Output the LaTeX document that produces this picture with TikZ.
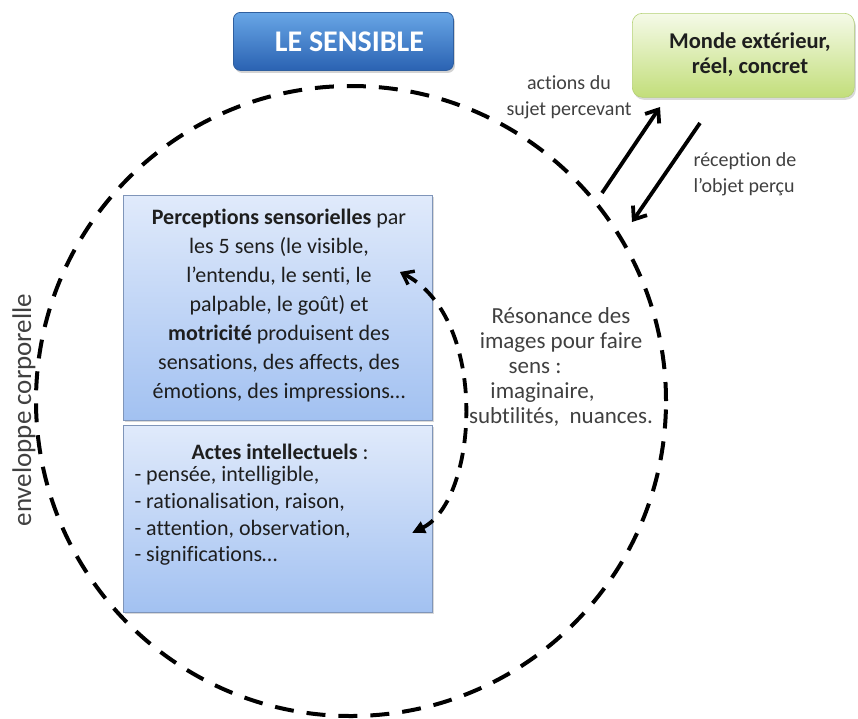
\documentclass[tikz,border=0pt]{standalone}
\usepackage{fontspec}
\setmainfont{Carlito}[RawFeature={-liga}]
\usetikzlibrary{arrows.meta,shadows}
\definecolor{titletop}{HTML}{68A6E6}
\definecolor{titlebot}{HTML}{2A62B2}
\definecolor{titledraw}{HTML}{2F5F9F}
\definecolor{greentop}{HTML}{F5FAE8}
\definecolor{greenbot}{HTML}{C2DE7A}
\definecolor{greendraw}{HTML}{B4D174}
\definecolor{bluetop}{HTML}{E0EAFB}
\definecolor{bluebot}{HTML}{A2C1F1}
\definecolor{bluedraw}{HTML}{7F95B9}
\definecolor{txt}{HTML}{1E1E1E}
\definecolor{lbl}{HTML}{404040}
\tikzset{
  titlebox/.style={rectangle, rounded corners=7pt, top color=titletop, bottom color=titlebot, draw=titledraw, line width=0.8pt,
    drop shadow={opacity=0.35, shadow xshift=1.5pt, shadow yshift=-2.5pt}},
  greenbox/.style={rectangle, rounded corners=10pt, top color=greentop, bottom color=greenbot, draw=greendraw, line width=0.6pt,
    drop shadow={opacity=0.3, shadow xshift=1.5pt, shadow yshift=-2.5pt}},
  bluebox/.style={rectangle, top color=bluetop, bottom color=bluebot, draw=bluedraw, line width=0.8pt,
    drop shadow={opacity=0.3, shadow xshift=2pt, shadow yshift=-2pt}},
  envline/.style={draw, line width=4pt, dash pattern=on 19pt off 13pt},
  bigarrow/.style={line width=3.8pt, -{Straight Barb[length=11pt,width=17pt,line width=3.8pt]}},
  lbltext/.style={text=lbl, font=\fontsize{20}{26}\selectfont},
  boxtext/.style={text=txt, font=\fontsize{22}{29}\selectfont},
}
\begin{document}
\begin{tikzpicture}[x=1pt,y=-1pt]
\useasboundingbox (0,0) rectangle (858,718);

% envelope circle
\node[circle, envline, minimum size=630pt, inner sep=0pt] (env) at (351,401) {};

% boxes
\node[bluebox, minimum width=309pt, minimum height=225pt, anchor=north west, inner sep=0pt] (perc) at (123,195) {};
\node[bluebox, minimum width=309pt, minimum height=187pt, anchor=north west, inner sep=0pt] (actes) at (123,425) {};

\node[titlebox, minimum width=220pt, minimum height=58pt, anchor=north west, inner sep=0pt] (titre) at (233,12) {};
\node[text=white, font=\fontsize{30}{32}\selectfont\bfseries] (titretxt) at ([xshift=6pt]titre.center) {LE SENSIBLE};

\node[greenbox, minimum width=222pt, minimum height=84pt, anchor=north west, inner sep=0pt] (monde) at (632,13) {};
\node[text=txt, align=center, font=\fontsize{22.5}{25}\selectfont\bfseries] (mondetxt) at (750,55) {Monde extérieur,\\réel, concret};

% box texts
\node[boxtext, align=center] (perctxt) at (279,306) {\textbf{Perceptions sensorielles} par\\les 5 sens (le visible,\\l’entendu, le senti, le\\palpable, le goût) et\\\textbf{motricité} produisent des\\sensations, des affects, des\\émotions, des impressions…};
\node[boxtext] (actestitre) at (280,452) {\textbf{Actes intellectuels} :};
\node[boxtext, align=left, anchor=north west, font=\fontsize{22}{26.7}\selectfont] (acteslist) at (131,463) {- pensée, intelligible,\\- rationalisation, raison,\\- attention, observation,\\- significations…};

% resonance
\node[lbltext, align=center, font=\fontsize{23}{25}\selectfont] (reso) at (561,367) {Résonance des\\images pour faire\\sens :\makebox[52pt]{}\\imaginaire,\makebox[37pt]{}\\subtilités,\ \ nuances.};

% side labels
\node[lbltext, align=center] (actlbl) at (569,97) {actions du\\sujet percevant};
\node[lbltext, align=left, anchor=west] (reclbl) at (690,174) {réception de\\l’objet perçu};
\node[lbltext, rotate=90, font=\fontsize{27}{30}\selectfont] (envlbl) at (24,410) {enveloppe corporelle};

% exchange arrows
\coordinate (upS) at (602,193);
\coordinate (upE) at (660,107);
\coordinate (dnS) at (700,123);
\coordinate (dnE) at (632,222);
\draw[bigarrow] (upS) -- (upE);
\draw[bigarrow] (dnS) -- (dnE);

% resonance loop arrow
\coordinate (loopT) at (400,272);
\coordinate (loopB) at (412,533);
\draw[line width=3.8pt, dash pattern=on 15pt off 10pt,
  {Straight Barb[length=10pt,width=15pt,line width=3.4pt]}-{Triangle[length=13pt,width=12pt]}]
  (loopT) .. controls (490,318) and (478,500) .. (loopB);
\end{tikzpicture}
\end{document}
